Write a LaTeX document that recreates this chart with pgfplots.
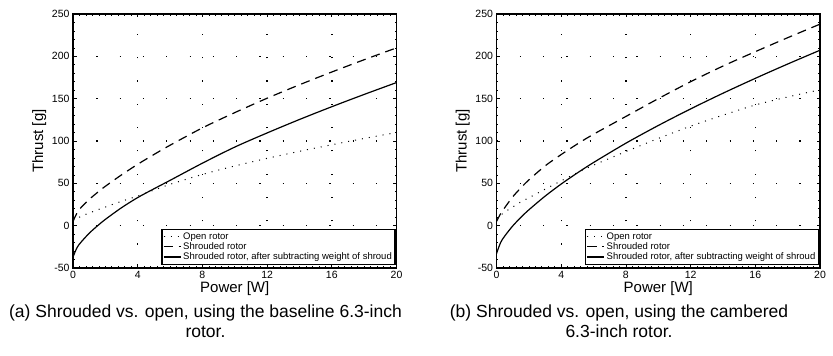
\documentclass[border=0pt]{standalone}
\usepackage{fontspec}
\setmainfont{Liberation Sans}
\usepackage{pgfplots}
\pgfplotsset{compat=1.18}

\pgfplotsset{
 myax/.style={
  scale only axis, width=323.5bp, height=254bp,
  xmin=0,xmax=20,ymin=-50,ymax=250,
  xtick={0,4,...,20}, ytick={-50,0,...,250},
  minor x tick num=9, minor y tick num=4,
  tick align=inside, major tick length=3.5bp, minor tick length=1.8bp,
  every tick/.style={black, line width=0.7bp},
  axis line style={line width=1.5bp},
  xmajorgrids, ymajorgrids,
  major grid style={black, line width=1.4bp, dash pattern=on 1.2bp off 22.1bp},
  ticklabel style={font=\fontsize{10.5bp}{12bp}\selectfont},
  /pgf/number format/assume math mode=true,
  label style={font=\fontsize{15bp}{18bp}\selectfont},
  xlabel={Power [W]}, ylabel={Thrust [g]},
  xlabel style={at={(axis description cs:0.5,-0.081)},anchor=center},
  ylabel style={at={(axis description cs:-0.104,0.5)},anchor=center},
  legend style={at={(axis description cs:0.997,0.012)},anchor=south east,
    font=\fontsize{9.5bp}{11bp}\selectfont, draw=black, line width=1.4bp,
    inner sep=1bp, row sep=-2bp},
  legend cell align=left,
 },
 opn/.style={black, line width=1bp, dash pattern=on 1bp off 6bp, smooth},
 shr/.style={black, line width=1.2bp, dash pattern=on 9bp off 6bp, smooth},
 sub/.style={black, line width=1.2bp, smooth},
}

\begin{document}
\begin{tikzpicture}
\useasboundingbox (0,0) rectangle (833bp,356bp);

\begin{axis}[myax, at={(73bp,88bp)}, anchor=south west]
\addplot[opn] coordinates {(0,6)(0.5,11)(1,15)(2,22)(3,28.8)(4,35)(5,42)(6,48.8)(8,60.5)(10,70.5)(12,79.5)(14,87.8)(16,95.6)(18,103)(20,110)};
\addlegendentry{Open rotor}
\addplot[shr] coordinates {(0,5)(0.25,15)(0.5,21.5)(1,31)(1.5,39)(2,46.5)(3,60)(4,72.5)(5,84)(6,95)(8,115.5)(10,133.5)(12,150.5)(14,166.4)(16,181.5)(18,196)(20,210)};
\addlegendentry{Shrouded rotor}
\addplot[sub] coordinates {(0,-37)(0.25,-25.9)(0.5,-19.4)(1,-9)(1.5,-0.4)(2,7.4)(3,21.2)(4,33.2)(5,43.5)(6,53.5)(8,73.8)(10,92.8)(12,109.5)(14,125.4)(16,140.5)(18,155)(20,169)};
\addlegendentry{Shrouded rotor, after subtracting weight of shroud}
\end{axis}

\begin{axis}[myax, at={(496.5bp,88bp)}, anchor=south west]
\addplot[opn] coordinates {(0,8)(0.25,12)(0.5,16)(1,22)(1.5,28)(2,33)(3,43)(4,53)(5,62.5)(6,71.5)(8,87.5)(10,103)(12,117.5)(14,130.5)(16,142.5)(18,152)(20,160.5)};
\addlegendentry{Open rotor}
\addplot[shr] coordinates {(0,5)(0.25,14)(0.5,21)(1,34)(1.5,44.5)(2,54)(3,70.5)(4,84)(5,96.5)(6,108)(8,129)(10,150)(12,170)(14,188.5)(16,205.5)(18,222)(20,238)};
\addlegendentry{Shrouded rotor}
\addplot[sub] coordinates {(0,-33)(0.25,-20.1)(0.5,-12.5)(1,-0.4)(1.5,9.7)(2,18.7)(3,34.8)(4,49.2)(5,62.3)(6,74.6)(8,97.4)(10,118.3)(12,137.9)(14,156.4)(16,174)(18,190.9)(20,207.2)};
\addlegendentry{Shrouded rotor, after subtracting weight of shroud}
\end{axis}

\begin{scope}[every node/.style={font=\fontsize{17.5bp}{20bp}\selectfont, inner sep=0pt, anchor=base}]
\node at (205.5bp,39bp) {(a) Shrouded vs. open, using the baseline 6.3-inch};
\node at (205.5bp,19bp) {rotor.};
\node at (619bp,39bp) {(b) Shrouded vs. open, using the cambered};
\node at (619bp,19bp) {6.3-inch rotor.};
\end{scope}
\end{tikzpicture}
\end{document}
